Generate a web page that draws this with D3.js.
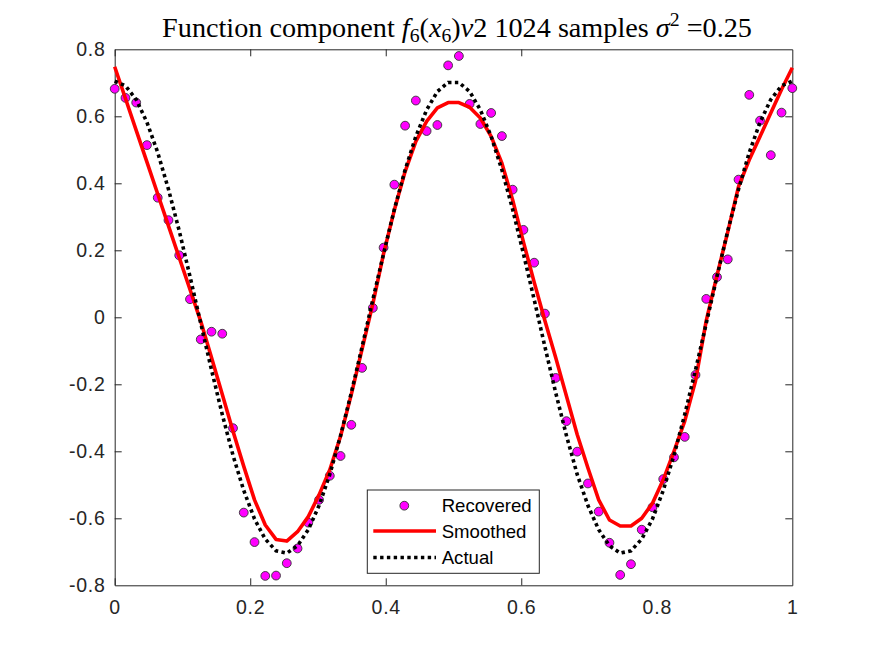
<!DOCTYPE html>
<html>
<head>
<meta charset="utf-8">
<script src="https://d3js.org/d3.v7.min.js"></script>
<style>
  body { margin: 0; background: #fff; }
  svg { display: block; }
  .tick line, .domain { stroke: #262626; stroke-width: 1; }
  .legendText { font-family: "Liberation Sans", Arial, sans-serif; font-size: 18.6px; fill: #000; }
  .title { font-family: "Liberation Serif", "Times New Roman", serif; fill: #000; }
</style>
</head>
<body>
<svg id="chart1" width="875" height="656"></svg>
<script>
// sample grid, like linspace(0,1,64)
const sampleCount = 64;
const xTicks = [0, 0.2, 0.4, 0.6, 0.8, 1];
const xTickLabels = ["0", "0.2", "0.4", "0.6", "0.8", "1"];
const yTicks = [-0.8, -0.6, -0.4, -0.2, 0, 0.2, 0.4, 0.6, 0.8];
const yTickLabels = ["-0.8", "-0.6", "-0.4", "-0.2", "0", "0.2", "0.4", "0.6", "0.8"];
const seriesNames = ["Recovered", "Smoothed", "Actual"];

const recovered = [0.682, 0.655, 0.641, 0.514, 0.357, 0.290, 0.185, 0.054, -0.066, -0.043,
  -0.049, -0.331, -0.583, -0.671, -0.772, -0.771, -0.734, -0.690, -0.613, -0.545,
  -0.473, -0.414, -0.321, -0.151, 0.028, 0.208, 0.396, 0.572, 0.647, 0.556,
  0.574, 0.752, 0.780, 0.637, 0.577, 0.610, 0.541, 0.381, 0.261, 0.163,
  0.011, -0.181, -0.310, -0.401, -0.496, -0.580, -0.673, -0.769, -0.737, -0.634,
  -0.567, -0.483, -0.418, -0.357, -0.172, 0.055, 0.120, 0.173, 0.411, 0.664,
  0.587, 0.484, 0.611, 0.684];

const smoothed = [0.748, 0.653, 0.558, 0.463, 0.368, 0.273, 0.178, 0.083, -0.012, -0.120,
  -0.230, -0.340, -0.445, -0.545, -0.620, -0.663, -0.668, -0.640, -0.595, -0.530,
  -0.455, -0.355, -0.230, -0.095, 0.040, 0.190, 0.320, 0.435, 0.525, 0.585,
  0.625, 0.641, 0.641, 0.627, 0.595, 0.540, 0.460, 0.350, 0.225, 0.105,
  -0.010, -0.120, -0.235, -0.350, -0.450, -0.545, -0.605, -0.623, -0.623, -0.600,
  -0.555, -0.485, -0.400, -0.310, -0.190, -0.010, 0.125, 0.255, 0.390, 0.470,
  0.540, 0.610, 0.680, 0.745];

const actual = [0.705, 0.691, 0.650, 0.582, 0.492, 0.382, 0.258, 0.122, -0.018, -0.157,
  -0.290, -0.412, -0.517, -0.602, -0.662, -0.697, -0.704, -0.682, -0.634, -0.562,
  -0.469, -0.353, -0.225, -0.088, 0.053, 0.190, 0.322, 0.440, 0.540, 0.619,
  0.674, 0.701, 0.701, 0.674, 0.619, 0.540, 0.440, 0.322, 0.190, 0.053,
  -0.088, -0.225, -0.353, -0.469, -0.562, -0.634, -0.682, -0.704, -0.697, -0.662,
  -0.602, -0.517, -0.412, -0.290, -0.157, -0.018, 0.122, 0.258, 0.382, 0.492,
  0.582, 0.650, 0.691, 0.705];

let margin = { left: 114.7, right: 792.3, top: 49.3, bottom: 585.3 };

const xs = d3.range(sampleCount).map((i) => i / (sampleCount - 1));
const svg = d3.select("#chart1");

const xLinear = d3.scaleLinear().domain([0, 1]).range([margin.left, margin.right]);
const yLinear = d3.scaleLinear().domain([-0.8, 0.8]).range([margin.bottom, margin.top]);

// axes (ticks point inward, box on)
let xAxisG = svg.append("g")
  .attr("transform", "translate(0," + margin.bottom + ")")
  .call(d3.axisBottom(xLinear).tickValues(xTicks).tickSize(-7).tickSizeOuter(0).tickPadding(15)
    .tickFormat((d, i) => xTickLabels[i]));
svg.append("g")
  .attr("transform", "translate(0," + margin.top + ")")
  .call(d3.axisTop(xLinear).tickValues(xTicks).tickSize(-7).tickSizeOuter(0).tickFormat(""));
let yAxisG = svg.append("g")
  .attr("transform", "translate(" + margin.left + ",0)")
  .call(d3.axisLeft(yLinear).tickValues(yTicks).tickSize(-7).tickSizeOuter(0).tickPadding(9)
    .tickFormat((d, i) => yTickLabels[i]));
svg.append("g")
  .attr("transform", "translate(" + margin.right + ",0)")
  .call(d3.axisRight(yLinear).tickValues(yTicks).tickSize(-7).tickSizeOuter(0).tickFormat(""));

[xAxisG, yAxisG].forEach((g) => {
  g.selectAll("text")
    .style("font-family", "'Liberation Sans', Arial, sans-serif")
    .style("font-size", "19.5px")
    .style("letter-spacing", "0.8px")
    .attr("fill", "#262626");
});

// hide the end ticks that sit on the box edges
svg.selectAll(".tick line")
  .attr("opacity", (d) => (Math.abs(d) === 0.8 || d === 1 ? 0 : 1));

const line = d3.line().x((d, i) => xLinear(xs[i])).y((d) => yLinear(d));

svg.append("g").selectAll("circle")
  .data(recovered)
  .enter()
  .append("circle")
    .attr("cx", (d, i) => xLinear(xs[i]))
    .attr("cy", (d) => yLinear(d))
    .attr("r", 4.4)
    .attr("fill", "#ff00ff")
    .attr("stroke", "#333")
    .attr("stroke-width", 0.9);

svg.append("path")
  .datum(smoothed)
  .attr("d", line)
  .attr("fill", "none")
  .attr("stroke", "#ff0000")
  .attr("stroke-width", 3.6)
  .attr("stroke-linejoin", "round");

svg.append("path")
  .datum(actual)
  .attr("d", line)
  .attr("fill", "none")
  .attr("stroke", "#000")
  .attr("stroke-width", 3.6)
  .attr("stroke-dasharray", "3.4 3.4");

// title with math parts
let title = svg.append("text")
  .attr("class", "title")
  .attr("x", 457)
  .attr("y", 37)
  .attr("text-anchor", "middle")
  .style("font-size", "22px");
title.append("tspan").text("Function component ");
title.append("tspan").style("font-style", "italic").text("f");
title.append("tspan").attr("baseline-shift", "-25%").style("font-size", "70%").text("6");
title.append("tspan").text("(");
title.append("tspan").style("font-style", "italic").text("x");
title.append("tspan").attr("baseline-shift", "-25%").style("font-size", "70%").text("6");
title.append("tspan").text(")");
title.append("tspan").style("font-style", "italic").text("v");
title.append("tspan").text("2 1024 samples ");
title.append("tspan").style("font-style", "italic").text("σ");
title.append("tspan").attr("baseline-shift", "super").style("font-size", "70%").text("2");
title.append("tspan").text(" =0.25");
let tl = title.node().getComputedTextLength();
title.style("font-size", (22 * 590 / tl) + "px");

// legend
let legend = svg.append("g");
legend.append("rect")
  .attr("x", 367.3).attr("y", 490)
  .attr("width", 172).attr("height", 83.3)
  .attr("fill", "#fff")
  .attr("stroke", "#262626")
  .attr("stroke-width", 1);
const rowY = [505.7, 531, 557.5];
legend.append("circle")
  .attr("cx", 404.3).attr("cy", rowY[0]).attr("r", 4.4)
  .attr("fill", "#ff00ff").attr("stroke", "#333").attr("stroke-width", 0.9);
legend.append("line")
  .attr("x1", 373.3).attr("x2", 436).attr("y1", rowY[1]).attr("y2", rowY[1])
  .attr("stroke", "#ff0000").attr("stroke-width", 3.6);
legend.append("line")
  .attr("x1", 373.3).attr("x2", 436).attr("y1", rowY[2]).attr("y2", rowY[2])
  .attr("stroke", "#000").attr("stroke-width", 3.6).attr("stroke-dasharray", "3.4 3.4");
legend.selectAll(".legendText")
  .data(seriesNames)
  .enter()
  .append("text")
    .attr("class", "legendText")
    .attr("x", 441.7)
    .attr("y", (d, i) => rowY[i])
    .attr("dy", "0.35em")
    .text((d) => d);
</script>
</body>
</html>
